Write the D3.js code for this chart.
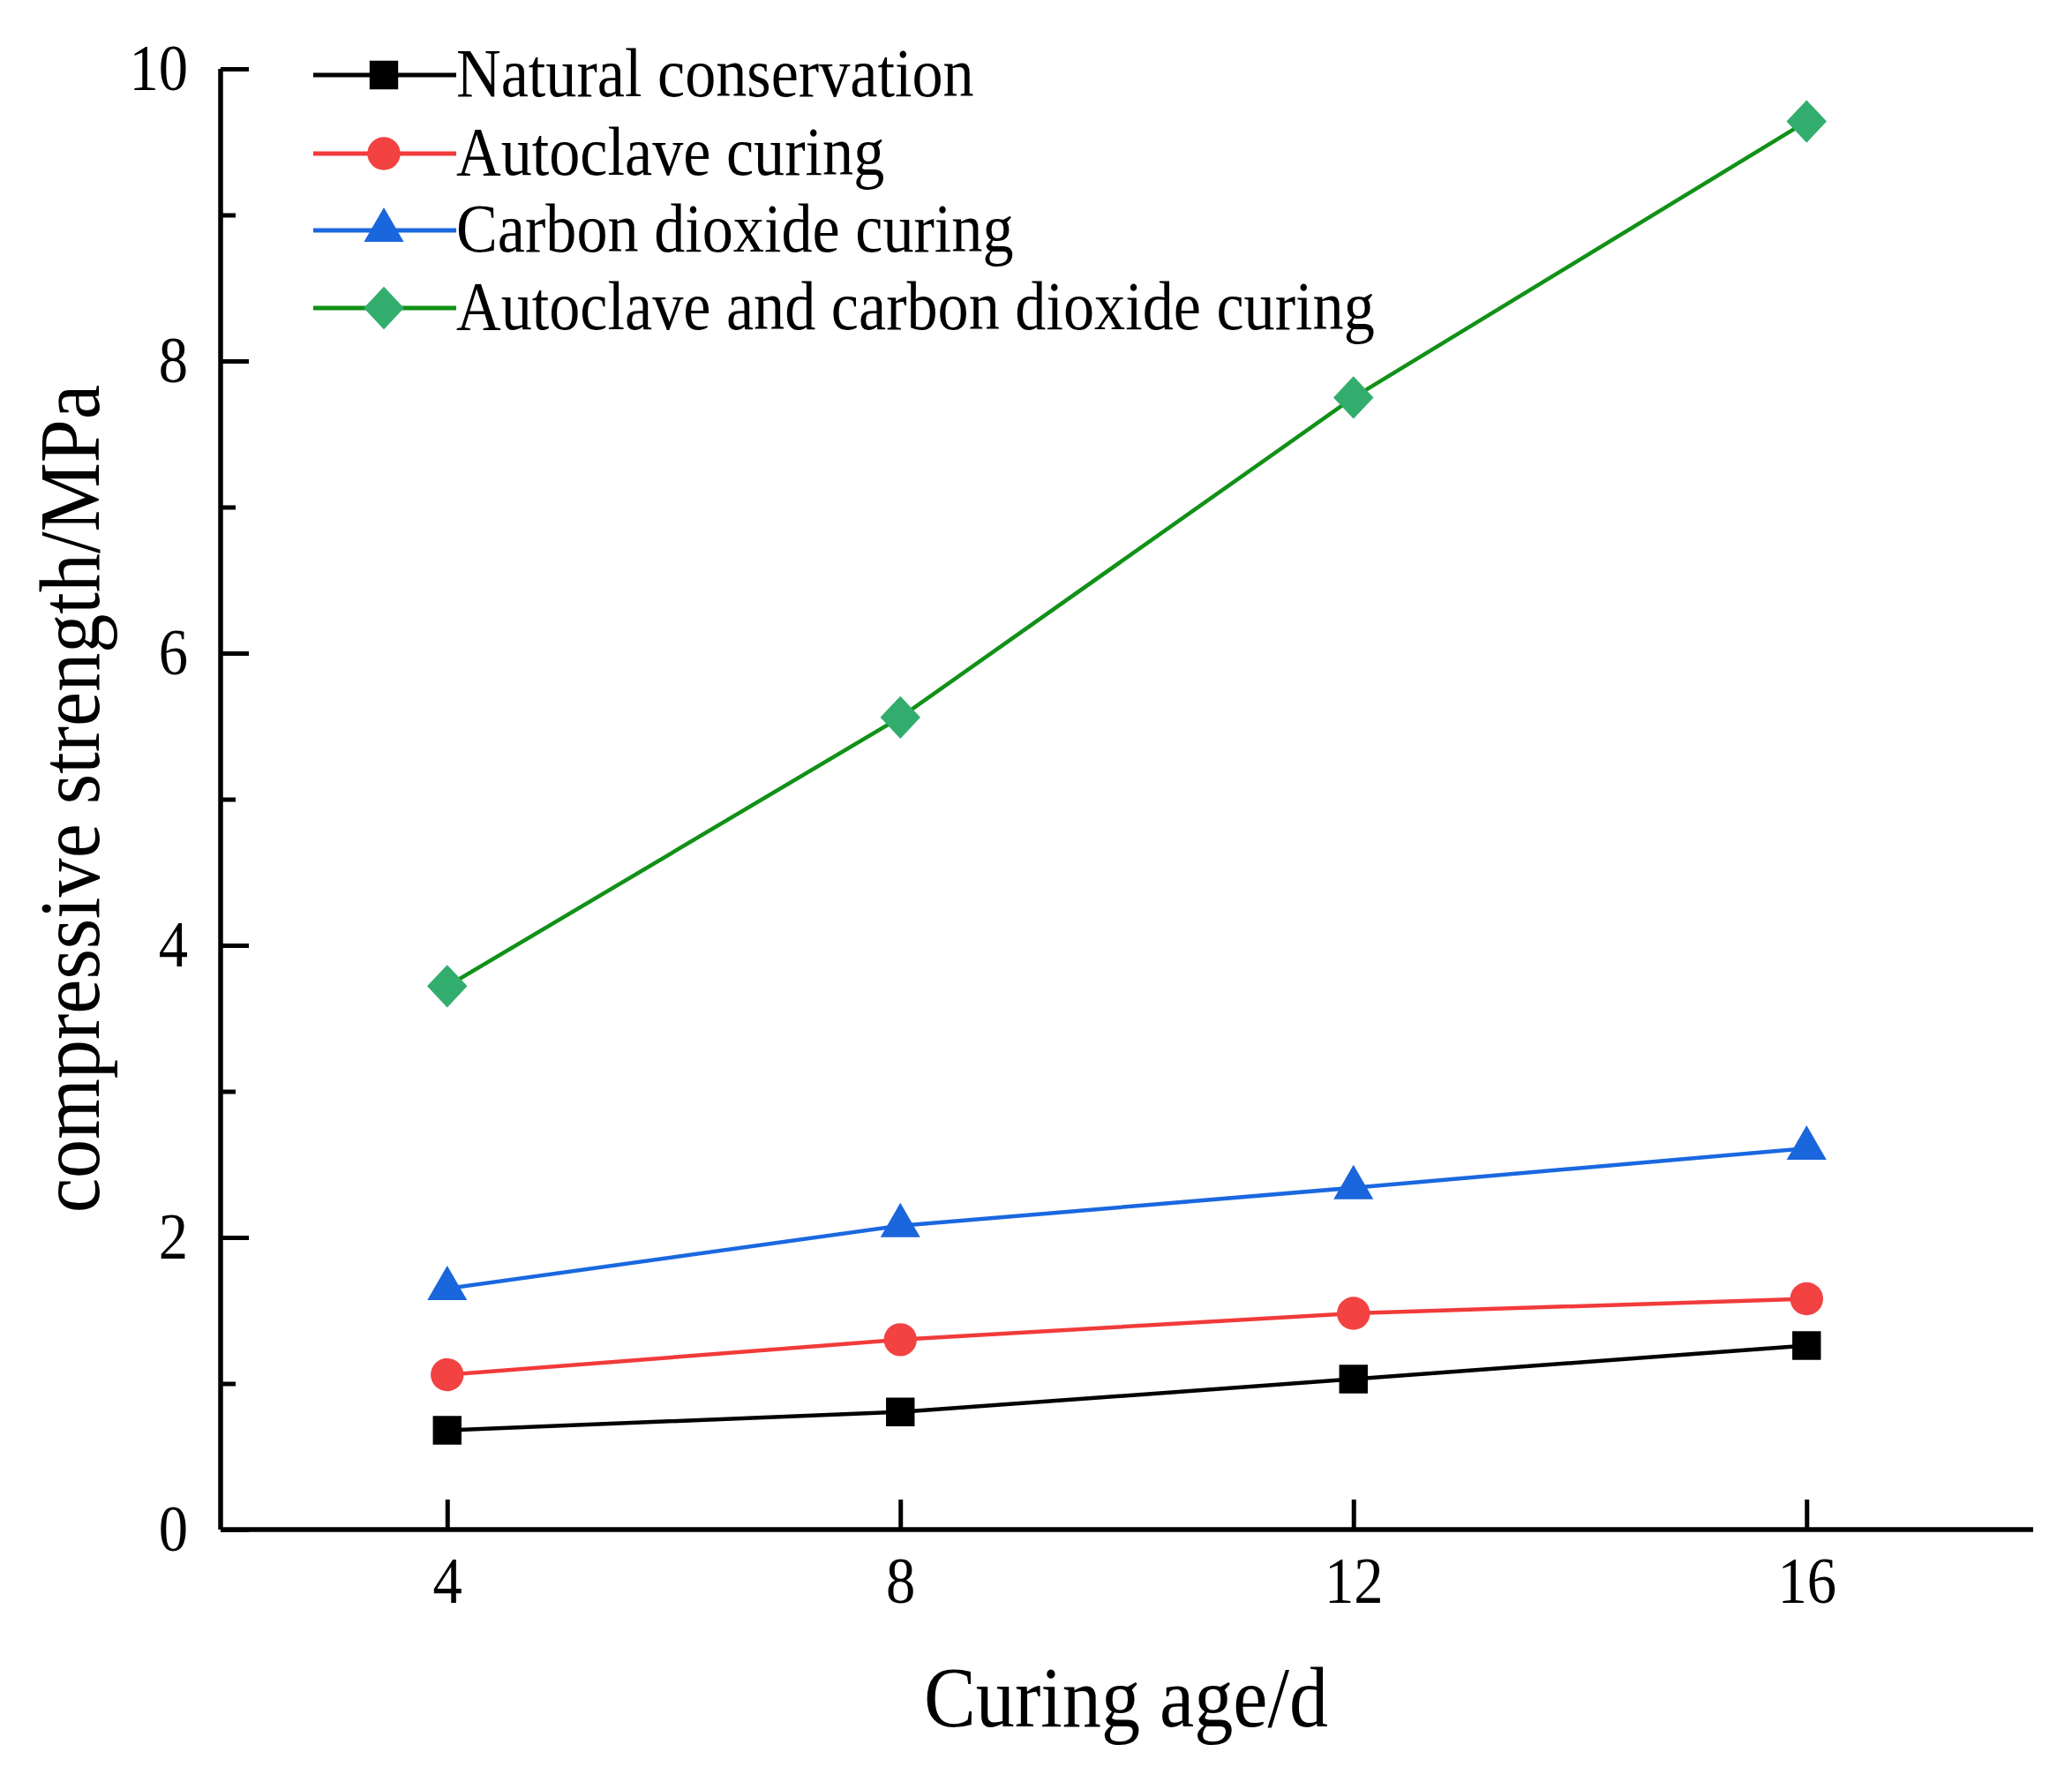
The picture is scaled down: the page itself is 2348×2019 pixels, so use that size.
<!DOCTYPE html>
<html><head><meta charset="utf-8">
<script src="https://cdn.jsdelivr.net/npm/d3@7"></script>
<style>body{margin:0;background:#fff}</style>
</head><body>
<svg id="c" width="2348" height="2019"></svg>
<script>
const ages = [4, 8, 12, 16];
const natural = [0.68, 0.805, 1.03, 1.26];
const autoclave = [1.06, 1.30, 1.48, 1.58];
const co2 = [1.65, 2.08, 2.34, 2.61];
const combined = [3.72, 5.56, 7.75, 9.64];
const seriesNames = ["Natural conservation", "Autoclave curing", "Carbon dioxide curing", "Autoclave and carbon dioxide curing"];
const xTicks = [4, 8, 12, 16];
const yTicks = [0, 2, 4, 6, 8, 10];
const yMinorTicks = [1, 3, 5, 7, 9];

const symDiamond = {
  draw(ctx, size) {
    const h = Math.sqrt(size / 2);
    ctx.moveTo(0, -h * 1.03); ctx.lineTo(h * 0.97, 0); ctx.lineTo(0, h * 1.03); ctx.lineTo(-h * 0.97, 0); ctx.closePath();
  }
};

const series = [
  {name: seriesNames[0], values: natural, line: "#000000", fill: "#000000", sym: d3.symbolSquare, size: 1050},
  {name: seriesNames[1], values: autoclave, line: "#f23a3a", fill: "#f24242", sym: d3.symbolCircle, size: 1100},
  {name: seriesNames[2], values: co2, line: "#1a68e0", fill: "#1a66dc", sym: d3.symbolTriangle, size: 880},
  {name: seriesNames[3], values: combined, line: "#119117", fill: "#33ad6e", sym: symDiamond, size: 1100}
];

const svg = d3.select("#c");
const font = "'Liberation Serif', 'Times New Roman', serif";
const SX = 0.9;
const L = 250, R = 2304, T = 78, B = 1733;
const x = d3.scaleLinear().domain([2, 18]).range([L, R]);
const y = d3.scaleLinear().domain([0, 10]).range([B, T]);

// axes
const gx = svg.append("g").attr("transform", `translate(0,${B})`)
  .call(d3.axisBottom(x).tickValues(xTicks).tickSize(-34).tickPadding(30).tickFormat(d3.format("d")));
const gy = svg.append("g").attr("transform", `translate(${L},0)`)
  .call(d3.axisLeft(y).tickValues(yTicks).tickSize(-32).tickPadding(37).tickFormat(d3.format("d")));
svg.append("g").attr("transform", `translate(${L},0)`)
  .call(d3.axisLeft(y).tickValues(yMinorTicks).tickSize(-17).tickFormat(""))
  .call(g => g.select(".domain").remove());

svg.selectAll(".domain").attr("stroke", "#000").attr("stroke-width", 5.5);
svg.selectAll(".tick line").attr("stroke", "#000").attr("stroke-width", 5);
svg.selectAll(".tick text").attr("font-family", font).attr("font-size", 74).attr("fill", "#000");
gx.selectAll(".tick text").attr("dy", "0.71em")
  .attr("transform", function() { const t = d3.select(this); return `translate(0,${t.attr("y")}) scale(${SX},1) translate(0,${-t.attr("y")})`; });
gy.selectAll(".tick text").each(function() {
  const t = d3.select(this); const xx = +t.attr("x");
  t.attr("transform", `translate(${xx},0) scale(${SX},1) translate(${-xx},0)`);
});
gx.select(".domain").attr("d", `M${L},0H${R}`);
gy.select(".domain").attr("d", `M0,${T}V${B}`);

// lines
const line = d3.line().x((d, i) => x(ages[i])).y(d => y(d));
series.forEach(s => {
  svg.append("path").datum(s.values).attr("d", line)
    .attr("fill", "none").attr("stroke", s.line).attr("stroke-width", 4.5);
  svg.selectAll(null).data(s.values).enter().append("path")
    .attr("transform", (d, i) => `translate(${x(ages[i])},${y(d)})`)
    .attr("d", d3.symbol().type(s.sym).size(s.size))
    .attr("fill", s.fill);
});

// legend
const legY = [85, 174, 261, 349];
series.forEach((s, i) => {
  const g = svg.append("g").attr("transform", `translate(0,${legY[i]})`);
  g.append("line").attr("x1", 355).attr("x2", 517).attr("y1", 0).attr("y2", 0)
    .attr("stroke", s.line).attr("stroke-width", 5);
  g.append("path").attr("transform", "translate(435,0)")
    .attr("d", d3.symbol().type(s.sym).size(s.size)).attr("fill", s.fill);
  g.append("text").attr("transform", `translate(517,-3) scale(${SX},1)`).attr("dy", "0.35em")
    .attr("font-family", font).attr("font-size", 78).attr("fill", "#000").text(s.name);
});

// axis titles
svg.append("text").attr("transform", `translate(1276,1956) scale(${SX},1)`).attr("text-anchor", "middle")
  .attr("font-family", font).attr("font-size", 98).attr("fill", "#000").text("Curing age/d");
svg.append("text").attr("transform", `translate(112,905) rotate(-90) scale(${SX},1)`)
  .attr("text-anchor", "middle").attr("font-family", font).attr("font-size", 98).attr("fill", "#000")
  .text("compressive strength/MPa");
</script>
</body></html>
